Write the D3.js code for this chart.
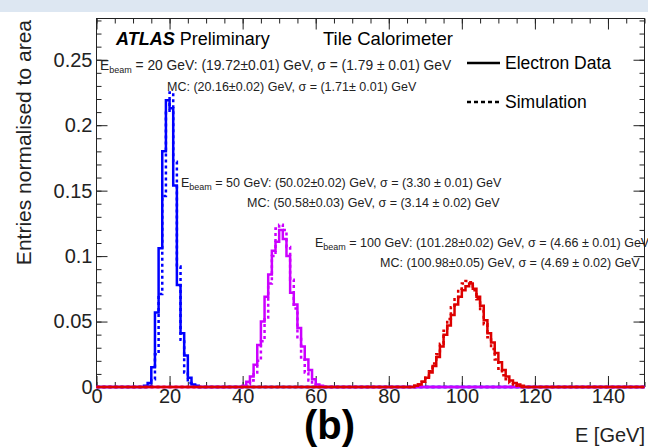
<!DOCTYPE html>
<html>
<head>
<meta charset="utf-8">
<script src="https://cdn.jsdelivr.net/npm/d3@7"></script>
<style>
  body { margin: 0; background: #fff; }
  svg { display: block; font-family: "Liberation Sans", Arial, sans-serif; }
  .axis text { font-size: 20px; fill: #222; }
  .axis line { stroke: #222; }
  .stat { font-size: 12.5px; fill: #222; }
</style>
</head>
<body>
<svg id="chart"></svg>
<script>
// tick labels
const xTickLabels = [0, 20, 40, 60, 80, 100, 120, 140];
const yTickLabels = [0, 0.05, 0.1, 0.15, 0.2, 0.25];

// 1 GeV bins; *Start = low edge of first bin
const beam20DataStart = 13;
const beam20Data = [0.001, 0.003, 0.015, 0.057, 0.106, 0.180, 0.219, 0.213, 0.154, 0.078, 0.041, 0.024, 0.007, 0.002, 0.001];
const beam20MCStart = 14;
const beam20MC = [0.001, 0.006, 0.025, 0.071, 0.146, 0.211, 0.225, 0.172, 0.092, 0.036, 0.011, 0.003, 0.001];

const beam50DataStart = 40;
const beam50Data = [0.001, 0.004, 0.008, 0.017, 0.032, 0.050, 0.069, 0.086, 0.104, 0.111, 0.120, 0.113, 0.100, 0.072, 0.063, 0.045, 0.031, 0.021, 0.013, 0.006, 0.002, 0.001];
const beam50MCStart = 41;
const beam50MC = [0.002, 0.005, 0.011, 0.020, 0.035, 0.053, 0.079, 0.100, 0.121, 0.124, 0.120, 0.107, 0.082, 0.060, 0.038, 0.021, 0.011, 0.005, 0.002];

const beam100DataStart = 87;
const beam100Data = [0.001, 0.002, 0.004, 0.007, 0.011, 0.016, 0.023, 0.031, 0.040, 0.047, 0.055, 0.063, 0.069, 0.074, 0.077, 0.079, 0.075, 0.069, 0.062, 0.051, 0.041, 0.034, 0.026, 0.019, 0.013, 0.008, 0.005, 0.003, 0.002, 0.001];
const beam100MCStart = 87;
const beam100MC = [0.001, 0.002, 0.004, 0.007, 0.012, 0.018, 0.025, 0.033, 0.043, 0.052, 0.061, 0.068, 0.075, 0.079, 0.081, 0.080, 0.074, 0.067, 0.058, 0.048, 0.038, 0.029, 0.021, 0.014, 0.009, 0.006, 0.003, 0.002, 0.001];

const series = [
  { start: beam20DataStart, values: beam20Data, color: '#0000ff', dashed: false },
  { start: beam20MCStart, values: beam20MC, color: '#0000ff', dashed: true },
  { start: beam50DataStart, values: beam50Data, color: '#cc00ff', dashed: false },
  { start: beam50MCStart, values: beam50MC, color: '#cc00ff', dashed: true },
  { start: beam100DataStart, values: beam100Data, color: '#dd0000', dashed: false },
  { start: beam100MCStart, values: beam100MC, color: '#dd0000', dashed: true }
];

class HistChart {

    constructor(_config, _data) {
        this.config = {
            parentElement: _config.parentElement,
            containerWidth: _config.containerWidth || 648,
            containerHeight: _config.containerHeight || 447,
            margin: _config.margin || { top: 18.5, right: 3.5, bottom: 60, left: 96.5 }
        };
        this.data = _data;
        this.initVis();
    }

    initVis() {
        let vis = this;

        vis.width = vis.config.containerWidth - vis.config.margin.left - vis.config.margin.right;
        vis.height = vis.config.containerHeight - vis.config.margin.top - vis.config.margin.bottom;

        vis.xScale = d3.scaleLinear()
            .domain([0, 150])
            .range([0, vis.width]);

        vis.yScale = d3.scaleLinear()
            .domain([0, 0.2815])
            .range([vis.height, 0]);

        vis.svg = d3.select(vis.config.parentElement)
            .attr('width', vis.config.containerWidth)
            .attr('height', vis.config.containerHeight);

        // light strip at the very top of the picture
        vis.svg.append('rect')
            .attr('x', 0).attr('y', 0)
            .attr('width', vis.config.containerWidth).attr('height', 12)
            .attr('fill', '#dde7f2');

        vis.chart = vis.svg.append('g')
            .attr('transform', `translate(${vis.config.margin.left},${vis.config.margin.top})`);

        vis.chart.append('rect')
            .attr('width', vis.width)
            .attr('height', vis.height)
            .attr('fill', 'none')
            .attr('stroke', '#222')
            .attr('stroke-width', 1);

        // ROOT style: ticks point inward, on all four sides
        const minorX = d3.range(0, 151, 5);
        const minorY = d3.range(0, 0.2801, 0.01);
        const fmt = d => String(d);

        const axes = [
            { axis: d3.axisBottom(vis.xScale).tickValues(xTickLabels).tickFormat(fmt).tickSize(-11).tickPadding(2), tr: `translate(0,${vis.height})`, bottom: true },
            { axis: d3.axisBottom(vis.xScale).tickValues(minorX).tickFormat('').tickSize(-5), tr: `translate(0,${vis.height})` },
            { axis: d3.axisTop(vis.xScale).tickValues(xTickLabels).tickFormat('').tickSize(-11), tr: 'translate(0,0)' },
            { axis: d3.axisTop(vis.xScale).tickValues(minorX).tickFormat('').tickSize(-5), tr: 'translate(0,0)' },
            { axis: d3.axisLeft(vis.yScale).tickValues(yTickLabels).tickFormat(fmt).tickSize(-11).tickPadding(4), tr: 'translate(0,0)' },
            { axis: d3.axisLeft(vis.yScale).tickValues(minorY).tickFormat('').tickSize(-5), tr: 'translate(0,0)' },
            { axis: d3.axisRight(vis.yScale).tickValues(yTickLabels).tickFormat('').tickSize(-11), tr: `translate(${vis.width},0)` },
            { axis: d3.axisRight(vis.yScale).tickValues(minorY).tickFormat('').tickSize(-5), tr: `translate(${vis.width},0)` }
        ];
        axes.forEach(a => {
            const g = vis.chart.append('g').attr('class', 'axis').attr('transform', a.tr).call(a.axis);
            g.select('.domain').remove();
            g.selectAll('text').attr('font-family', null).attr('font-size', null);
            if (a.bottom) g.selectAll('text').attr('dy', '0.72em');
        });

        vis.marks = vis.chart.append('g');

        // titles
        vis.svg.append('text')
            .attr('transform', 'translate(31,20) rotate(-90)')
            .attr('text-anchor', 'end')
            .style('font-size', '21px')
            .attr('fill', '#222')
            .text('Entries normalised to area');

        vis.svg.append('text')
            .attr('x', 645).attr('y', 442)
            .attr('text-anchor', 'end')
            .style('font-size', '20px')
            .attr('fill', '#222')
            .text('E [GeV]');

        vis.svg.append('text')
            .attr('x', 304).attr('y', 439)
            .style('font-size', '40px')
            .style('font-weight', 'bold')
            .attr('fill', '#000')
            .text('(b)');

        const atlas = vis.svg.append('text')
            .attr('x', 116).attr('y', 45)
            .style('font-size', '18px')
            .attr('fill', '#000');
        atlas.append('tspan').style('font-weight', 'bold').style('font-style', 'italic').text('ATLAS');
        atlas.append('tspan').text(' Preliminary');

        vis.svg.append('text')
            .attr('x', 323).attr('y', 45)
            .style('font-size', '18.5px')
            .attr('fill', '#000')
            .text('Tile Calorimeter');

        // legend
        vis.svg.append('line')
            .attr('x1', 467).attr('x2', 500).attr('y1', 63).attr('y2', 63)
            .attr('stroke', '#000').attr('stroke-width', 2.5);
        vis.svg.append('text').attr('x', 505).attr('y', 69)
            .style('font-size', '17.5px').attr('fill', '#000').text('Electron Data');
        vis.svg.append('line')
            .attr('x1', 467).attr('x2', 500).attr('y1', 102).attr('y2', 102)
            .attr('stroke', '#000').attr('stroke-width', 2.5).attr('stroke-dasharray', '4,3');
        vis.svg.append('text').attr('x', 505).attr('y', 108)
            .style('font-size', '17.5px').attr('fill', '#000').text('Simulation');

        // fit results
        const beamText = (x, y, e, rest, size) => {
            const t = vis.svg.append('text').attr('class', 'stat').attr('x', x).attr('y', y);
            if (size) t.style('font-size', size + 'px');
            t.append('tspan').text('E');
            t.append('tspan').attr('dy', 3).style('font-size', '9px').text('beam');
            t.append('tspan').attr('dy', -3).text(` = ${e} GeV: ${rest}`);
        };
        const mcText = (x, y, rest) => {
            vis.svg.append('text').attr('class', 'stat').attr('x', x).attr('y', y).text(`MC: ${rest}`);
        };
        beamText(100, 70, 20, '(19.72±0.01) GeV, σ = (1.79 ± 0.01) GeV', 13.8);
        mcText(167, 91, '(20.16±0.02) GeV, σ = (1.71± 0.01) GeV');
        beamText(181, 187, 50, '(50.02±0.02) GeV, σ = (3.30 ± 0.01) GeV');
        mcText(247, 207, '(50.58±0.03) GeV, σ = (3.14 ± 0.02) GeV');
        beamText(315, 247, 100, '(101.28±0.02) GeV, σ = (4.66 ± 0.01) GeV');
        mcText(380, 267, '(100.98±0.05) GeV, σ = (4.69 ± 0.02) GeV');

        vis.renderVis();
    }

    renderVis() {
        let vis = this;

        const line = d3.line()
            .x(d => vis.xScale(d[0]))
            .y(d => vis.yScale(d[1]))
            .curve(d3.curveStepAfter);

        // full-range outline: zero, bins, back to zero
        const points = s => {
            const pts = [[0, 0]];
            s.values.forEach((v, i) => pts.push([s.start + i, v]));
            pts.push([s.start + s.values.length, 0]);
            pts.push([150, 0]);
            return pts;
        };

        vis.marks.selectAll('.hist')
            .data(vis.data)
            .join('path')
            .attr('class', 'hist')
            .attr('fill', 'none')
            .attr('stroke', d => d.color)
            .attr('stroke-width', 2.5)
            .attr('stroke-dasharray', d => d.dashed ? '3,3' : null)
            .attr('d', d => line(points(d)));
    }
}

new HistChart({ parentElement: '#chart' }, series);
</script>
</body>
</html>
